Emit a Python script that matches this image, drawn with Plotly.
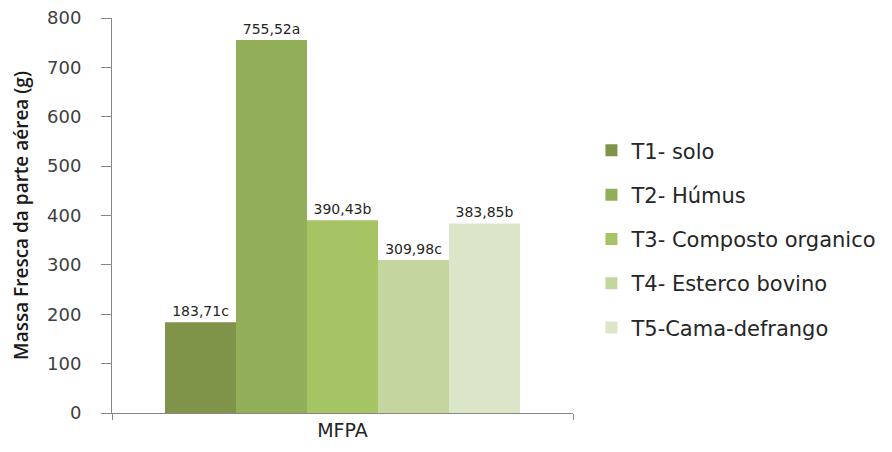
import plotly.graph_objects as go

# dados
categoria = ['MFPA']
tratamentos = ['T1- solo', 'T2- Húmus', 'T3- Composto organico',
               'T4- Esterco bovino', 'T5-Cama-defrango']
valores = [183.71, 755.52, 390.43, 309.98, 383.85]
letras = ['c', 'a', 'b', 'c', 'b']
cores = ['#7f9448', '#93ae58', '#a6c464', '#c4d59f', '#dbe6c9']

fig = go.Figure()
for nome, v, l, c in zip(tratamentos, valores, letras, cores):
    rotulo = f'{v:.2f}'.replace('.', ',') + l
    fig.add_trace(go.Bar(x=categoria, y=[v], name=nome, legendgroup=nome,
                         marker=dict(color=c, line=dict(width=0)),
                         text=[rotulo], textposition='outside', cliponaxis=False,
                         textfont=dict(family='DejaVu Sans', size=14, color='#262626')))

fig.update_layout(
    width=892, height=452,
    margin=dict(l=104, r=327, t=10, b=47),
    plot_bgcolor='white', paper_bgcolor='white',
    barmode='group', bargap=0.23, bargroupgap=0,
    font=dict(family='DejaVu Sans', size=17, color='#404040'),
    legend=dict(x=1.04, y=0.716, xanchor='left', yanchor='top',
                traceorder='grouped', tracegroupgap=14,
                font=dict(family='DejaVu Sans', size=21, color='#262626'),
                itemwidth=30),
    showlegend=True,
)
fig.update_yaxes(range=[0, 800], dtick=100, showgrid=False, zeroline=False,
                 showline=True, linecolor='#868686', linewidth=1,
                 ticks='outside', ticklen=10, tickcolor='#868686', automargin=False,
                 ticklabelstandoff=16, ticklabeloverflow='allow',
                 tickfont=dict(family='DejaVu Sans', size=18, color='#404040'),
                 title=dict(text='Massa Fresca da parte aérea (g)', standoff=26,
                            font=dict(family='Open Sans', size=19, color='#1a1a1a',
                                      weight=600)))
fig.update_xaxes(showline=True, linecolor='#868686', linewidth=1, showgrid=False,
                 ticks='outside', tickson='boundaries', ticklen=6, tickcolor='#868686',
                 automargin=False,
                 tickfont=dict(family='DejaVu Sans', size=19, color='#262626'))

fig.write_html("out.html")
